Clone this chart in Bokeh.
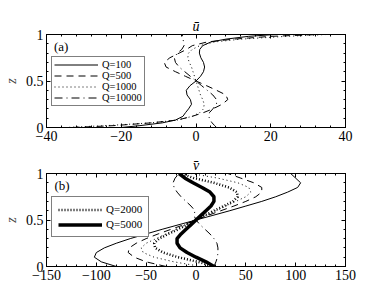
from bokeh.plotting import figure
from bokeh.layouts import column
from bokeh.models import (FixedTicker, LinearAxis, Legend, LegendItem, Label,
                          CustomJSTickFormatter, Range1d)
from bokeh.embed import file_html
from bokeh.resources import INLINE

FONT = "Liberation Serif"

# ---------------- panel (a): u-bar ----------------
z_a = [0, 0.02, 0.05, 0.08, 0.12, 0.16, 0.2, 0.25, 0.3, 0.35, 0.4, 0.45, 0.5,
       0.55, 0.6, 0.65, 0.7, 0.75, 0.8, 0.84, 0.88, 0.92, 0.95, 0.98, 1.0]
u_q100 = [-20, -15, -9, -5.5, -3.5, -2.8, -2, -1.2, -1.5, -2.4, -2.6, -1.6, 0,
          1.2, 2, 2.3, 2, 1.3, 0.9, 1, 1.8, 4, 8, 14, 21]
u_q500 = [-33, -22, -12, -5, -1, 2, 4.5, 7, 8.5, 8, 5.5, 2.8, 0,
          -2.8, -5.5, -8, -8.5, -7, -4.5, -2.5, -1, 3, 10, 20, 33]
u_q1000 = [-35, -24, -12, -5, -1, 1, 2, 2.2, 1.8, 1.2, 0.8, 0.4, 0,
           -0.4, -0.8, -1.2, -1.8, -2.2, -2, -1, 1, 5, 12, 24, 35]
u_q10000 = [5.5, 5, 4.3, 3.8, 3.4, 3.6, 4.5, 5.5, 5.5, 4.5, 3, 1.5, 0,
            -1.5, -3, -4.5, -5.5, -5.8, -5, -3.8, -3.2, -3.3, -3.5, -3.6, -3.7]

# ---------------- panel (b): v-bar ----------------
z_b = [0, 0.05, 0.1, 0.15, 0.2, 0.25, 0.3, 0.35, 0.4, 0.45, 0.5,
       0.55, 0.6, 0.65, 0.7, 0.75, 0.8, 0.85, 0.9, 0.95, 1.0]
v_q100 = [-80, -95, -102, -100, -92, -80, -66, -50, -34, -17, 0,
          17, 34, 50, 66, 80, 92, 102, 105, 100, 95]
v_q500 = [-30, -50, -62, -68, -67, -60, -50, -38, -25, -12, 0,
          12, 25, 38, 50, 60, 66, 66, 58, 45, 32]
v_q1000 = [5, -22, -42, -53, -55, -50, -40, -30, -20, -10, 0,
           10, 20, 30, 40, 50, 55, 53, 42, 22, -5]
v_q10000 = [18, 20, 21.5, 22, 22, 21, 18, 14, 9, 4, 0,
            -2, -1, -5, -10, -15, -19, -22, -23, -21, -17]
v_q2000 = [18, 2, -18, -33, -41, -42, -37, -28, -18, -9, 0,
           9, 18, 28, 37, 42, 41, 33, 18, -2, -15]
v_q5000 = [18, 10, 0, -9, -16, -19, -19, -15, -10, -5, 0,
           5, 10, 15, 18, 18, 14, 6, -3, -11, -17]

xticks_a = [-40, -20, 0, 20, 40]
xticks_b = [-150, -100, -50, 0, 50, 100, 150]
yticks = [0, 0.5, 1]

fmt_code = "return (tick < 0 ? '\u2212' : '') + Math.abs(tick).toString();"


def style_axis(ax, show_labels):
    ax.major_tick_in = 4
    ax.major_tick_out = 0
    ax.minor_tick_in = 2
    ax.minor_tick_out = 0
    ax.major_tick_line_color = "black"
    ax.minor_tick_line_color = "black"
    ax.axis_line_color = "black"
    ax.major_label_text_font = FONT
    ax.major_label_text_font_size = "14px"
    ax.major_label_text_color = "black"
    ax.major_label_standoff = 3
    if show_labels:
        ax.formatter = CustomJSTickFormatter(code=fmt_code)
    else:
        ax.formatter = CustomJSTickFormatter(code="return '';")
        ax.major_label_standoff = 0


def make_fig(title, xr, xticks, xminor, height, top_border):
    p = figure(width=360, height=height, output_backend="svg", toolbar_location=None,
               x_range=Range1d(*xr), y_range=Range1d(0, 1),
               min_border_left=45, min_border_right=15, min_border_top=top_border,
               min_border_bottom=22, x_axis_location="below")
    p.title.text = title
    p.title.align = "center"
    p.title.text_font = FONT
    p.title.text_font_style = "italic"
    p.title.text_font_size = "14px"
    p.title.text_color = "black"
    p.title.standoff = 2
    p.grid.visible = False
    p.outline_line_color = "black"
    p.outline_line_width = 1
    p.background_fill_color = "white"
    p.border_fill_color = "white"

    xt = FixedTicker(ticks=xticks, minor_ticks=xminor)
    yt = FixedTicker(ticks=yticks, minor_ticks=[i / 10 for i in range(11)])
    p.xaxis.ticker = xt
    p.yaxis.ticker = yt
    style_axis(p.xaxis[0], True)
    style_axis(p.yaxis[0], True)
    p.yaxis.axis_label = "z"
    p.yaxis.axis_label_text_font = FONT
    p.yaxis.axis_label_text_font_style = "italic"
    p.yaxis.axis_label_text_font_size = "14px"
    p.yaxis.axis_label_standoff = 4

    ra = LinearAxis(ticker=yt)
    style_axis(ra, False)
    p.add_layout(ra, "right")
    ta = LinearAxis(ticker=xt)
    style_axis(ta, False)
    p.add_layout(ta, "above")
    return p


def add_legend(p, items, loc, spacing, padding, fsize):
    lg = Legend(items=items, location=loc)
    lg.label_text_font = FONT
    lg.label_text_font_size = fsize
    lg.label_text_color = "black"
    lg.glyph_width = 44
    lg.glyph_height = 9
    lg.label_height = 9
    lg.label_standoff = 4
    lg.spacing = spacing
    lg.padding = padding
    lg.margin = 0
    lg.border_line_color = "black"
    lg.border_line_width = 1.2
    lg.background_fill_alpha = 1
    lg.background_fill_color = "white"
    p.add_layout(lg)


# panel (a)
pa = make_fig("\u016b", (-40, 40), xticks_a, list(range(-40, 41, 4)), 149, 34)
r1 = pa.line(u_q100, z_a, line_color="black", line_width=1)
r2 = pa.line(u_q500, z_a, line_color="black", line_width=1, line_dash="7 5")
r3 = pa.line(u_q1000, z_a, line_color="black", line_width=1, line_dash="1 3")
r4 = pa.line(u_q10000, z_a, line_color="black", line_width=1, line_dash="8 4 1 4")
add_legend(pa, [LegendItem(label="Q=100", renderers=[r1]),
                LegendItem(label="Q=500", renderers=[r2]),
                LegendItem(label="Q=1000", renderers=[r3]),
                LegendItem(label="Q=10000", renderers=[r4])], (5, 21), 0, 2, "10.5px")
pa.add_layout(Label(x=-38, y=0.87, text="(a)", text_font=FONT, text_font_size="13px",
                    text_baseline="middle", text_color="black"))

# panel (b)
pb = make_fig("v\u0304", (-150, 150), xticks_b, list(range(-150, 151, 10)), 139, 24)
pb.line(v_q100, z_b, line_color="black", line_width=1)
pb.line(v_q500, z_b, line_color="black", line_width=1, line_dash="7 5")
pb.line(v_q1000, z_b, line_color="black", line_width=1, line_dash="1 3")
pb.line(v_q10000, z_b, line_color="black", line_width=1, line_dash="8 4 1 4")
s1 = pb.line(v_q2000, z_b, line_color="black", line_width=2.5, line_dash="1 2")
s2 = pb.line(v_q5000, z_b, line_color="black", line_width=3.5)
add_legend(pb, [LegendItem(label="Q=2000", renderers=[s1]),
                LegendItem(label="Q=5000", renderers=[s2])], (5, 29), 3, 6, "11px")
pb.add_layout(Label(x=-142, y=0.87, text="(b)", text_font=FONT, text_font_size="13px",
                    text_baseline="middle", text_color="black"))

layout = column(pa, pb, spacing=0)
open("out.html", "w").write(file_html(layout, INLINE))
